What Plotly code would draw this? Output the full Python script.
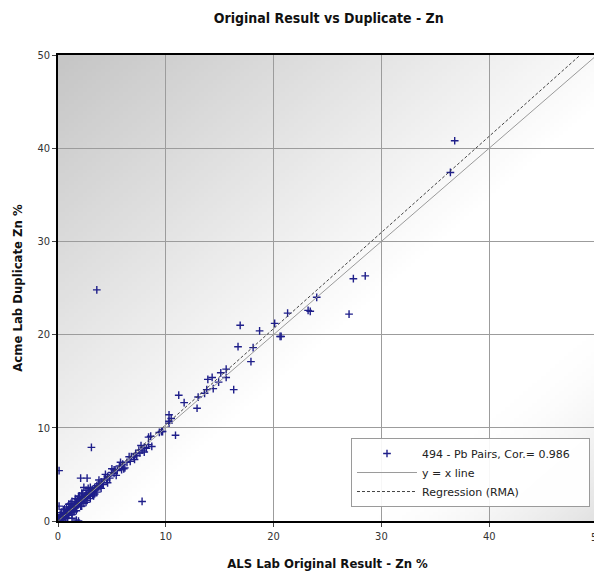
import base64, struct, zlib
import numpy as np
import plotly.graph_objects as go

# ---------------- data ----------------
x_orig = [
    0.02, 0.05, 0.08, 0.10, 0.12, 0.15, 0.18, 0.20, 0.22, 0.25, 0.28, 0.30, 0.32, 0.35, 0.38,
    0.40, 0.42, 0.45, 0.48, 0.50, 0.52, 0.55, 0.58, 0.60, 0.62, 0.65, 0.68, 0.70, 0.72, 0.75,
    0.78, 0.80, 0.82, 0.85, 0.88, 0.90, 0.92, 0.95, 0.98, 1.00, 1.05, 1.10, 1.15, 1.20, 1.25,
    1.30, 1.35, 1.40, 1.45, 1.50, 1.55, 1.60, 1.65, 1.70, 1.75, 1.80, 1.85, 1.90, 1.95, 2.00,
    2.05, 2.10, 2.20, 2.25, 2.30, 2.40, 2.45, 2.50, 2.60, 2.65, 2.70, 2.80, 2.85, 2.90, 3.00,
    3.05, 3.10, 3.20, 3.30, 3.40, 3.50, 3.60, 3.70, 3.80, 3.90, 4.00, 4.10,
    0.30, 0.60, 1.00, 1.20, 1.50, 2.00, 2.40, 2.80, 3.20, 0.50, 0.20,
    0.50, 0.80, 1.00, 1.30, 1.60, 1.90, 2.20, 2.60, 0.90, 1.30, 1.70, 2.20, 2.60, 3.00,
    3.40, 3.60, 0.30, 0.70, 1.10, 1.40, 1.80, 2.10, 2.30, 2.70, 3.00, 3.30, 3.80, 4.00,
    4.40, 4.60, 5.00, 5.40, 5.80, 6.10, 6.60, 7.10, 7.70, 8.00,
    4.20, 4.30, 4.50, 4.60, 4.80, 5.00, 5.20, 5.30, 5.50, 5.70, 5.90, 6.00, 6.20, 6.40, 6.70,
    6.80, 7.00, 7.20, 7.30, 7.50, 7.60, 7.80, 8.00, 8.20, 8.40, 8.70,
    8.40, 8.60, 9.40, 9.60, 9.70, 10.3, 10.3, 10.5, 10.3, 10.9,
    3.6, 3.1, 0.1, 2.1, 2.7, 2.4, 7.8, 1.3, 1.9, 0.1, 1.7, 5.2,
    11.2, 11.7, 12.9, 13.0, 13.6, 13.8, 14.4, 16.3, 13.9, 14.3, 14.9, 15.6, 15.1, 15.6,
    17.9, 18.1, 16.7, 18.7, 16.9, 20.7, 20.1, 21.3, 20.6, 23.2, 23.4, 24.0, 27.0, 27.4,
    28.5, 36.4, 36.8,
]
y_dup = [
    0.05, 0.02, 0.12, 0.30, 0.08, 0.20, 0.10, 0.35, 0.15, 0.30, 0.22, 0.45, 0.20, 0.40, 0.30,
    0.55, 0.35, 0.50, 0.40, 0.70, 0.45, 0.60, 0.50, 0.80, 0.55, 0.70, 0.60, 0.90, 0.65, 0.80,
    0.70, 1.00, 0.75, 0.95, 0.80, 1.10, 0.85, 1.00, 0.90, 1.25, 0.95, 1.20, 1.05, 1.40, 1.15,
    1.35, 1.25, 1.60, 1.30, 1.55, 1.45, 1.80, 1.50, 1.75, 1.65, 2.00, 1.70, 1.95, 1.85, 2.20,
    1.90, 2.15, 2.10, 2.45, 2.20, 2.50, 2.35, 2.70, 2.50, 2.80, 2.60, 3.00, 2.75, 3.10, 2.90,
    3.30, 3.00, 3.40, 3.20, 3.60, 3.35, 3.80, 3.60, 4.00, 3.70, 4.20, 3.95,
    0.90, 1.30, 0.60, 1.90, 1.00, 2.70, 1.90, 3.50, 2.80, 0.10, 0.70,
    1.20, 1.50, 1.80, 2.10, 2.40, 2.60, 3.00, 3.30, 0.30, 0.70, 1.10, 1.60, 2.00, 2.40,
    2.90, 3.10, 0.60, 0.40, 1.50, 1.00, 2.30, 1.60, 2.90, 2.20, 3.60, 2.70, 4.40, 3.50,
    5.00, 4.10, 5.60, 4.90, 6.30, 5.60, 6.90, 6.60, 8.10, 7.40,
    3.90, 4.50, 4.40, 4.80, 4.60, 5.20, 5.10, 5.50, 5.40, 5.90, 5.50, 6.10, 5.70, 6.30, 6.40,
    6.90, 6.90, 7.20, 7.00, 7.60, 7.30, 7.60, 7.90, 7.80, 8.20, 8.00,
    9.00, 9.10, 9.50, 9.60, 9.60, 10.5, 10.7, 11.0, 11.4, 9.20,
    24.8, 7.9, 5.4, 4.6, 4.6, 3.6, 2.1, 0.3, 0.0, 1.6, 0.1, 5.5,
    13.5, 12.7, 12.1, 13.3, 13.7, 14.1, 14.2, 14.1, 15.2, 15.4, 14.9, 15.4, 15.9, 16.3,
    17.1, 18.6, 18.7, 20.4, 21.0, 19.8, 21.2, 22.3, 19.8, 22.6, 22.5, 24.0, 22.2, 26.0,
    26.3, 37.4, 40.8,
]

n_pairs = 494
correlation = 0.986
reg_slope = 1.032          # RMA regression
reg_intercept = 0.0
axis_max = 50
tick_vals = [0, 10, 20, 30, 40, 50]

title_text = "Original Result vs Duplicate - Zn"
x_title = "ALS Lab Original Result - Zn %"
y_title = "Acme Lab Duplicate Zn %"
legend_points = f"{n_pairs} - Pb Pairs, Cor.= {correlation}"
legend_yx = "y = x line"
legend_reg = "Regression (RMA)"

# ---------------- background gradient image (decoration) ----------------
def make_png(arr):
    h, w = arr.shape
    raw = b"".join(b"\x00" + arr[i].tobytes() for i in range(h))
    def chunk(tag, data):
        return (struct.pack(">I", len(data)) + tag + data +
                struct.pack(">I", zlib.crc32(tag + data) & 0xffffffff))
    ihdr = struct.pack(">IIBBBBB", w, h, 8, 0, 0, 0, 0)
    return (b"\x89PNG\r\n\x1a\n" + chunk(b"IHDR", ihdr) +
            chunk(b"IDAT", zlib.compress(raw, 9)) + chunk(b"IEND", b""))

W, H = 120, 120
u = np.linspace(0, 1, W)[None, :]
w = np.linspace(0, 1, H)[:, None]
d = (u + w) / 2.0
val = 198 + (255 - 198) * np.clip(d / 0.55, 0, 1)
corner = np.clip((d - 0.80) / 0.20, 0, 1)
val = val - 28 * corner ** 1.5
bg = np.clip(val, 0, 255).astype(np.uint8)
bg_src = "data:image/png;base64," + base64.b64encode(make_png(bg)).decode()

# ---------------- figure ----------------
font_main = "DejaVu Sans Condensed, Liberation Sans Narrow, Arial"
font_legend = "DejaVu Sans, Arial"
pad = "\u00a0" * 4

fig = go.Figure()
fig.add_trace(go.Scatter(
    x=x_orig, y=y_dup, mode="markers", name=legend_points + pad,
    marker=dict(symbol="cross-thin", size=5.5, color="#1f1f8a",
                line=dict(width=1.4, color="#1f1f8a")),
))
fig.add_trace(go.Scatter(
    x=[0, axis_max], y=[0, axis_max], mode="lines", name=legend_yx,
    line=dict(color="#9a9a9a", width=1),
))
reg_x_end = (axis_max - reg_intercept) / reg_slope
fig.add_trace(go.Scatter(
    x=[0, reg_x_end], y=[reg_intercept, reg_intercept + reg_slope * reg_x_end],
    mode="lines", name=legend_reg,
    line=dict(color="#444444", width=1, dash="3px,2px"),
))

axis_common = dict(
    range=[0, axis_max], tickvals=tick_vals, showgrid=True,
    gridcolor="#9c9c9c", gridwidth=1, zeroline=False,
    showline=True, linecolor="black", linewidth=1.6, mirror=True,
    ticks="outside", ticklen=4, tickcolor="#444", automargin=False,
    tickfont=dict(family=font_main, size=11, color="#333"),
)

# page body has an 8px default margin, so the figure is sized/offset for it
fig.update_layout(
    width=594, height=565,
    margin=dict(l=50, r=5, t=47, b=52),
    paper_bgcolor="white", plot_bgcolor="white",
    title=dict(text=f"<b>{title_text}</b>", x=0.54, xanchor="center",
               y=1 - 10 / 565, yanchor="middle",
               font=dict(family=font_main, size=14, color="#111")),
    xaxis=dict(**axis_common,
               title=dict(text=f"<b>{x_title}</b>", standoff=17,
                          font=dict(family=font_main, size=13, color="#111"))),
    yaxis=dict(**axis_common,
               title=dict(text=f"<b>{y_title}</b>", standoff=12,
                          font=dict(family=font_main, size=13, color="#111"))),
    showlegend=True,
    legend=dict(x=0.987, xanchor="right", y=0.03, yanchor="bottom",
                bgcolor="rgba(255,255,255,0.92)", bordercolor="#9a9a9a",
                borderwidth=1, itemwidth=60, tracegroupgap=0,
                font=dict(family=font_legend, size=11, color="#222")),
    images=[dict(source=bg_src, xref="paper", yref="paper", x=0, y=1,
                 sizex=1, sizey=1, sizing="stretch", layer="below")],
    annotations=[dict(text=str(tick_vals[-1]), x=tick_vals[-1], xref="x",
                      y=0, yref="paper", yshift=-8, yanchor="top",
                      xanchor="center", showarrow=False,
                      font=dict(family=font_main, size=11, color="#333"))],
)

fig.write_html("out.html")
